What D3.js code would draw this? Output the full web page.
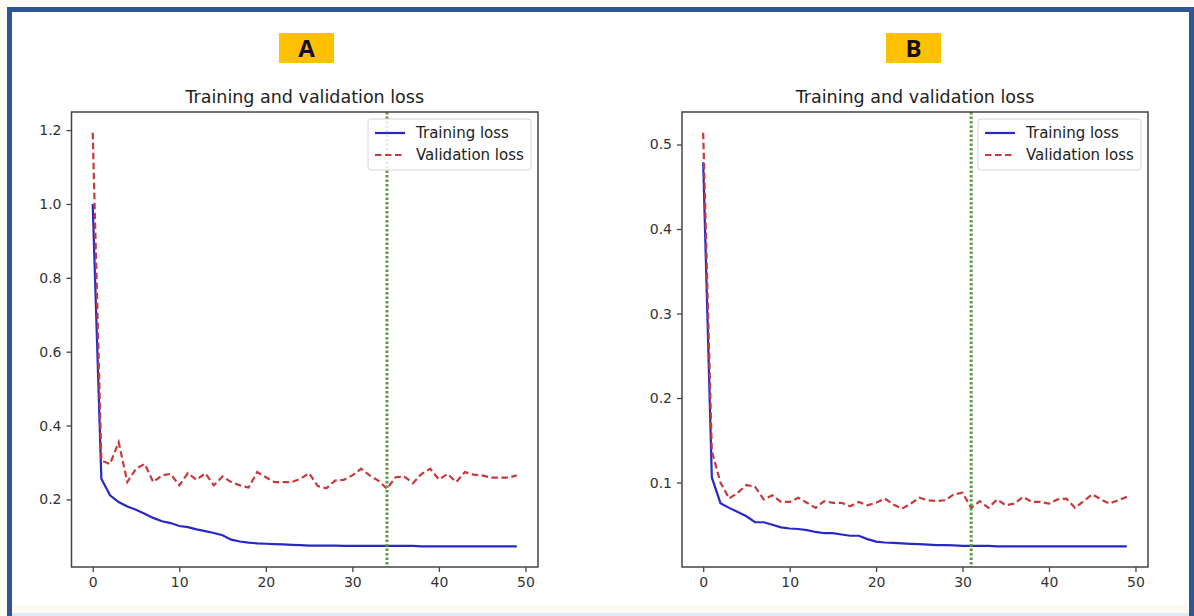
<!DOCTYPE html>
<html>
<head>
<meta charset="utf-8">
<script src="https://cdn.jsdelivr.net/npm/d3@7"></script>
<style>
  html, body { margin: 0; padding: 0; background: #fdfbf3; }
  svg { display: block; }
  .tick text { font-family: "DejaVu Sans", sans-serif; font-size: 14px; fill: #333; }
  .tick line { stroke: #444; stroke-width: 1.3; }
  .domain { display: none; }
</style>
</head>
<body>
<svg width="1194" height="616"></svg>
<script>
// epochs 0..49
var epochs = d3.range(50);

// panel A
var trainA = [1.00, 0.256, 0.211, 0.193, 0.181, 0.172, 0.161, 0.150, 0.141, 0.136,
              0.128, 0.125, 0.119, 0.114, 0.109, 0.103, 0.091, 0.086, 0.083, 0.081,
              0.080, 0.079, 0.078, 0.077, 0.076, 0.075, 0.075, 0.075, 0.075, 0.074,
              0.074, 0.074, 0.074, 0.074, 0.074, 0.074, 0.074, 0.074, 0.073, 0.073,
              0.073, 0.073, 0.073, 0.073, 0.073, 0.073, 0.073, 0.073, 0.073, 0.073];
var valA = [1.193, 0.305, 0.296, 0.355, 0.247, 0.283, 0.296, 0.247, 0.265, 0.269,
            0.238, 0.271, 0.253, 0.271, 0.238, 0.262, 0.247, 0.238, 0.232, 0.274,
            0.260, 0.247, 0.247, 0.247, 0.256, 0.271, 0.236, 0.230, 0.251, 0.253,
            0.265, 0.283, 0.265, 0.251, 0.229, 0.260, 0.262, 0.244, 0.269, 0.283,
            0.254, 0.269, 0.247, 0.274, 0.267, 0.265, 0.259, 0.259, 0.259, 0.265];
var stopA = 34;

// panel B
var trainB = [0.479, 0.106, 0.0755, 0.070, 0.065, 0.060, 0.053, 0.053, 0.050, 0.047,
              0.0456, 0.045, 0.0436, 0.0415, 0.040, 0.040, 0.0385, 0.037, 0.037, 0.033,
              0.030, 0.029, 0.0285, 0.028, 0.0275, 0.027, 0.0265, 0.026, 0.026, 0.0255,
              0.025, 0.025, 0.025, 0.025, 0.0245, 0.0245, 0.0245, 0.0245, 0.0245, 0.0245,
              0.0245, 0.0245, 0.0245, 0.0245, 0.0245, 0.0245, 0.0245, 0.0245, 0.0245, 0.0245];
var valB = [0.514, 0.137, 0.100, 0.081, 0.088, 0.097, 0.095, 0.080, 0.085, 0.077,
            0.077, 0.082, 0.076, 0.070, 0.078, 0.076, 0.076, 0.072, 0.077, 0.073,
            0.076, 0.081, 0.074, 0.069, 0.075, 0.082, 0.079, 0.078, 0.079, 0.086,
            0.088, 0.070, 0.078, 0.070, 0.080, 0.073, 0.075, 0.083, 0.077, 0.077,
            0.075, 0.080, 0.081, 0.070, 0.078, 0.086, 0.080, 0.075, 0.079, 0.083];
var stopB = 31;

var xTicks = [0, 10, 20, 30, 40, 50];
var yTicksA = [0.2, 0.4, 0.6, 0.8, 1.0, 1.2];
var yTicksB = [0.1, 0.2, 0.3, 0.4, 0.5];

var panels = [
  { label: "A", train: trainA, val: valA, stop: stopA, yTicks: yTicksA, left: 71.5, right: 538, labelX: 279 },
  { label: "B", train: trainB, val: valB, stop: stopB, yTicks: yTicksB, left: 682, right: 1148, labelX: 886 }
];

var svg = d3.select('svg');

// frame
svg.append('rect')
  .attr('x', 9.5).attr('y', 9.5)
  .attr('width', 1182).attr('height', 700)
  .attr('fill', '#ffffff')
  .attr('stroke', '#2f5597')
  .attr('stroke-width', 5);
svg.append('rect')
  .attr('x', 12).attr('y', 605).attr('width', 1177).attr('height', 8)
  .attr('fill', '#fcfaf0');
svg.append('rect')
  .attr('x', 12).attr('y', 613).attr('width', 1177).attr('height', 3)
  .attr('fill', '#dcebf6');

var plotTop = 112, plotBottom = 567;

panels.forEach(function(p){

  var x = d3.scaleLinear().domain([-2.45, 51.45]).range([p.left, p.right]);
  var all = p.train.concat(p.val);
  var lo = d3.min(all), hi = d3.max(all), pad = (hi - lo) * 0.05;
  var y = d3.scaleLinear().domain([lo - pad, hi + pad]).range([plotBottom, plotTop]);

  var g = svg.append('g');

  // label box
  g.append('rect')
    .attr('x', p.labelX).attr('y', 33)
    .attr('width', 55).attr('height', 30)
    .attr('fill', '#ffc000');
  g.append('text')
    .attr('x', p.labelX + 27.5).attr('y', 57)
    .attr('text-anchor', 'middle')
    .style('font-family', '"Open Sans", sans-serif')
    .style('font-weight', 'bold')
    .style('font-size', '24px')
    .attr('fill', '#111')
    .text(p.label);

  // title
  g.append('text')
    .attr('x', (p.left + p.right) / 2).attr('y', 103)
    .attr('text-anchor', 'middle')
    .style('font-family', '"DejaVu Sans", sans-serif')
    .style('font-size', '17.5px')
    .attr('fill', '#222')
    .text('Training and validation loss');

  // axes
  g.append('g')
    .attr('transform', 'translate(0,' + plotBottom + ')')
    .call(d3.axisBottom(x).tickValues(xTicks).tickSize(5).tickPadding(5).tickFormat(d3.format('d')));
  g.append('g')
    .attr('transform', 'translate(' + p.left + ',0)')
    .call(d3.axisLeft(y).tickValues(p.yTicks).tickSize(5).tickPadding(5).tickFormat(d3.format('.1f')));

  // lines
  var line = function(data){
    return d3.line()
      .x(function(d, i){ return x(epochs[i]) })
      .y(function(d){ return y(d) })(data);
  };

  g.append('path')
    .attr('d', line(p.train))
    .attr('fill', 'none')
    .attr('stroke', '#2828c8')
    .attr('stroke-width', 2.2);

  g.append('path')
    .attr('d', line(p.val))
    .attr('fill', 'none')
    .attr('stroke', '#c8393b')
    .attr('stroke-width', 2.2)
    .attr('stroke-dasharray', '6.5,3.5');

  g.append('line')
    .attr('x1', x(p.stop)).attr('x2', x(p.stop))
    .attr('y1', plotTop).attr('y2', plotBottom)
    .attr('stroke', '#5f9a45')
    .attr('stroke-width', 3)
    .attr('stroke-dasharray', '2.5,2');

  // spines
  g.append('rect')
    .attr('x', p.left).attr('y', plotTop)
    .attr('width', p.right - p.left).attr('height', plotBottom - plotTop)
    .attr('fill', 'none')
    .attr('stroke', '#444')
    .attr('stroke-width', 1.5);

  // legend
  var lx = p.right - 170, ly = plotTop + 7;
  var leg = g.append('g').attr('transform', 'translate(' + lx + ',' + ly + ')');
  leg.append('rect')
    .attr('width', 163).attr('height', 51).attr('rx', 3)
    .attr('fill', 'rgba(255,255,255,0.85)')
    .attr('stroke', '#d6d6d6');
  var items = [
    { name: 'Training loss', color: '#2828c8', dash: null },
    { name: 'Validation loss', color: '#c8393b', dash: '6.5,3.5' }
  ];
  items.forEach(function(it, k){
    var yy = 14 + k * 22;
    leg.append('line')
      .attr('x1', 7).attr('x2', 37).attr('y1', yy).attr('y2', yy)
      .attr('stroke', it.color).attr('stroke-width', 2.2)
      .attr('stroke-dasharray', it.dash);
    leg.append('text')
      .attr('x', 48).attr('y', yy + 5)
      .style('font-family', '"DejaVu Sans", sans-serif')
      .style('font-size', '15px')
      .attr('fill', '#222')
      .text(it.name);
  });
});
</script>
</body>
</html>
